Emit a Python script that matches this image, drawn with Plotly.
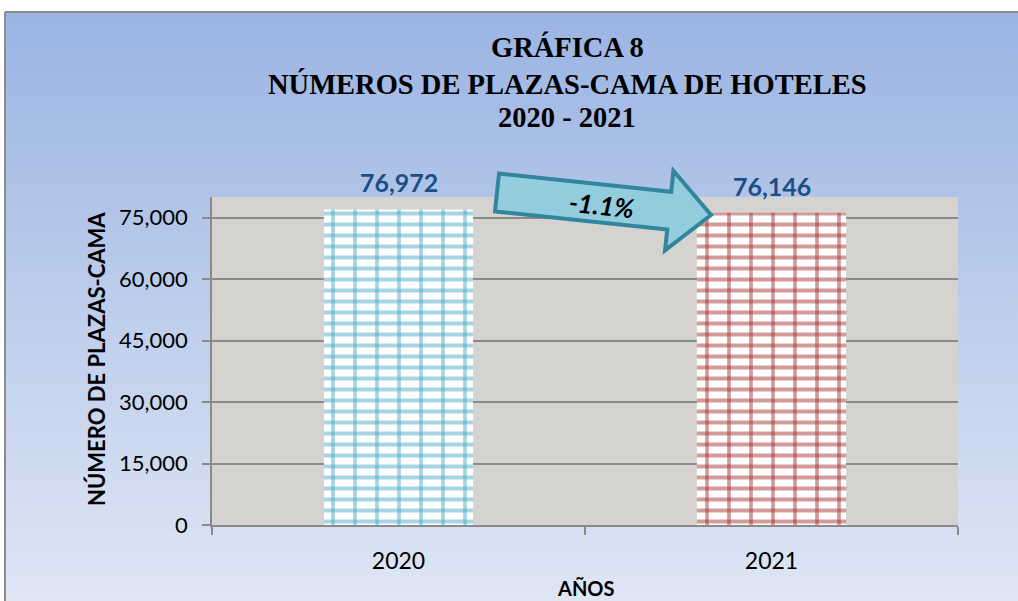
import base64
import numpy as np
import plotly.graph_objects as go

# ---- data ----
years = ["2020", "2021"]
plazas = [76972, 76146]
tick_vals = [0, 15000, 30000, 45000, 60000, 75000]
tick_text = ["0", "15,000", "30,000", "45,000", "60,000", "75,000"]
title_lines = ["GRÁFICA 8", "NÚMEROS DE PLAZAS-CAMA DE HOTELES", "2020 - 2021"]
y_title = "NÚMERO DE PLAZAS-CAMA"
x_title = "AÑOS"
change_pct = (plazas[1] - plazas[0]) / plazas[0] * 100

# ---- layout geometry (pixels) ----
W, H = 1018, 601
L, R, T, B = 212, 60, 197, 76
PW, PH = W - L - R, H - T - B


def px(x):
    return (x - L) / PW


def py(y):
    return (H - B - y) / PH


bar_cols = ["#4bacc6", "#a83636"]
font_main = "Lato, 'Open Sans', sans-serif"

fig = go.Figure()
for i in range(len(years)):
    # base bar with horizontal mortar lines
    fig.add_trace(go.Bar(
        x=[years[i]], y=[plazas[i]], width=0.40, name=years[i],
        marker=dict(color="white", line=dict(width=0),
                    pattern=dict(shape="-", fgcolor=bar_cols[i], bgcolor="white",
                                 size=11, solidity=0.36)),
        showlegend=False,
    ))
    # vertical mortar overlay
    fig.add_trace(go.Bar(
        x=[years[i]], y=[plazas[i]], width=0.40, name=years[i],
        marker=dict(color="rgba(0,0,0,0)", line=dict(width=0),
                    pattern=dict(shape="|", fgcolor=bar_cols[i], bgcolor="rgba(0,0,0,0)",
                                 size=22, solidity=0.17)),
        hoverinfo="skip", showlegend=False,
    ))

# value labels
for i, v in enumerate(plazas):
    fig.add_annotation(x=i, y=v, xref="x", yref="y", text=f"<b>{v:,}</b>",
                       showarrow=False, xanchor="center", yanchor="bottom", yshift=10,
                       font=dict(family=font_main, size=25, color="#1f4e85"))

# background gradient image
svg = ("<svg xmlns='http://www.w3.org/2000/svg' width='100' height='100' preserveAspectRatio='none'>"
       "<defs><linearGradient id='g' x1='0' y1='0' x2='0' y2='1'>"
       "<stop offset='0' stop-color='#9bb4e3'/><stop offset='1' stop-color='#e1e8f5'/>"
       "</linearGradient></defs><rect width='100' height='100' fill='url(#g)'/></svg>")
src = "data:image/svg+xml;base64," + base64.b64encode(svg.encode()).decode()
fig.add_layout_image(source=src, xref="paper", yref="paper", x=px(5), y=py(12),
                     sizex=(W + 20 - 5) / PW, sizey=(H + 20 - 12) / PH,
                     xanchor="left", yanchor="top", sizing="stretch", layer="below")

shapes = []
# plot-area background
shapes.append(dict(type="rect", xref="paper", yref="paper", x0=0, x1=1, y0=0, y1=1,
                   fillcolor="#d4d3cf", line=dict(width=0), layer="below"))
# frame (top and left edges visible)
shapes.append(dict(type="line", xref="paper", yref="paper", x0=px(5), x1=px(W + 20),
                   y0=py(12), y1=py(12), line=dict(color="#8c8c8c", width=2), layer="below"))
shapes.append(dict(type="line", xref="paper", yref="paper", x0=px(5), x1=px(5),
                   y0=py(12), y1=py(H + 20), line=dict(color="#8c8c8c", width=2), layer="below"))

# block arrow
C = np.array([497.0, 192.5])
tip = np.array([711.0, 215.0])
d = tip - C
Ltot = np.hypot(*d)
u = d / Ltot
n = np.array([-u[1], u[0]])
hs, hh, hl = 19.0, 40.0, 42.0
base = C + (Ltot - hl) * u
pts = [C - hs * n, base - hs * n, base - hh * n, tip, base + hh * n, base + hs * n, C + hs * n]
path = "M " + " L ".join(f"{px(p[0]):.5f},{py(p[1]):.5f}" for p in pts) + " Z"
shapes.append(dict(type="path", xref="paper", yref="paper", path=path,
                   fillcolor="#93cddd", line=dict(color="#31859c", width=4), layer="above"))

fig.update_layout(shapes=shapes)

fig.add_annotation(xref="paper", yref="paper", x=px(601), y=py(205),
                   text=f"<b><i>{change_pct:.1f}%</i></b>", showarrow=False, textangle=6,
                   xanchor="center", yanchor="middle",
                   font=dict(family=font_main, size=26, color="#000000"))

# titles
for txt, yy in zip(title_lines, [47, 84, 118]):
    fig.add_annotation(xref="paper", yref="paper", x=px(567), y=py(yy), text=f"<b>{txt}</b>",
                       showarrow=False, yanchor="middle", xanchor="center",
                       font=dict(family="'Liberation Serif', serif", size=28.5, color="#000000"))

fig.add_annotation(xref="paper", yref="paper", x=px(96), y=py(359), text=f"<b>{y_title}</b>",
                   showarrow=False, textangle=-90, xanchor="center", yanchor="middle",
                   font=dict(family=font_main, size=22, color="#000000"))
fig.add_annotation(xref="paper", yref="paper", x=px(585), y=py(588), text=f"<b>{x_title}</b>",
                   showarrow=False, xanchor="center", yanchor="middle",
                   font=dict(family=font_main, size=20, color="#000000"))

fig.update_layout(
    width=W, height=H,
    margin=dict(l=L, r=R, t=T, b=B, autoexpand=False),
    paper_bgcolor="white",
    plot_bgcolor="rgba(0,0,0,0)",
    barmode="overlay",
    xaxis=dict(type="category", categoryorder="array", categoryarray=years,
               range=[-0.5, len(years) - 0.5],
               showgrid=False, showline=True, linecolor="#8a8a8a", linewidth=1.5,
               ticks="outside", tickson="boundaries", ticklen=8, tickcolor="#8a8a8a", tickwidth=1.5,
               tickfont=dict(family=font_main, size=23, color="#000000"),
               ticklabelstandoff=15, automargin=False, fixedrange=True),
    yaxis=dict(range=[0, 80000], tickvals=tick_vals, ticktext=tick_text,
               showgrid=True, gridcolor="#8a8a8a", gridwidth=1.5, zeroline=False,
               showline=True, linecolor="#8a8a8a", linewidth=1.5,
               ticks="outside", ticklen=8, tickcolor="#8a8a8a", tickwidth=1.5,
               tickfont=dict(family=font_main, size=22, color="#000000"),
               ticklabelstandoff=10, automargin=False, fixedrange=True),
)

fig.write_html("out.html", config={"displayModeBar": False},
               post_script=("document.body.style.margin='0';"
                            "document.body.style.overflow='hidden';"
                            "document.documentElement.style.overflow='hidden';"))
